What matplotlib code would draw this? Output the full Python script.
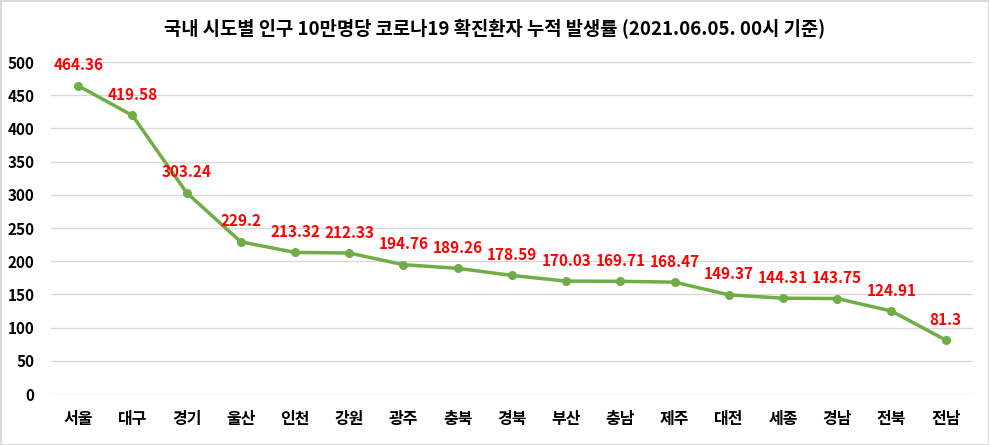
import matplotlib
matplotlib.use("Agg")
import matplotlib.pyplot as plt

plt.rcParams['font.family'] = ['Noto Sans CJK KR', 'DejaVu Sans']

regions = ["서울", "대구", "경기", "울산", "인천", "강원", "광주", "충북", "경북",
           "부산", "충남", "제주", "대전", "세종", "경남", "전북", "전남"]
values = [464.36, 419.58, 303.24, 229.2, 213.32, 212.33, 194.76, 189.26, 178.59,
          170.03, 169.71, 168.47, 149.37, 144.31, 143.75, 124.91, 81.3]
value_labels = ["464.36", "419.58", "303.24", "229.2", "213.32", "212.33", "194.76",
                "189.26", "178.59", "170.03", "169.71", "168.47", "149.37", "144.31",
                "143.75", "124.91", "81.3"]
yticks = [0, 50, 100, 150, 200, 250, 300, 350, 400, 450, 500]
title = "국내 시도별 인구 10만명당 코로나19 확진환자 누적 발생률 (2021.06.05. 00시 기준)"

fig = plt.figure(figsize=(9.89, 4.45), dpi=100)
fig.patch.set_edgecolor('#d9d9d9')
fig.patch.set_linewidth(2)
ax = fig.add_axes([0.0516, 0.1146, 0.932, 0.746])

x = list(range(len(regions)))
ax.plot(x, values, color='#70AD47', linewidth=2.5, marker='o', markersize=5.5, zorder=3)
for xi, v, lab in zip(x, values, value_labels):
    ax.annotate(lab, (xi, v), xytext=(0, 9), textcoords='offset points',
                ha='center', va='bottom', color='#FF0000', fontsize=11, fontweight='bold')

ax.set_xlim(-0.5, len(regions) - 0.5)
ax.set_ylim(0, 500)
ax.set_yticks(yticks)
ax.set_yticklabels([str(t) for t in yticks], fontsize=11, fontweight='bold')
ax.set_xticks(x)
ax.set_xticklabels(regions, fontsize=11.5, fontweight='bold')
ax.tick_params(axis='both', length=0)
ax.tick_params(axis='x', pad=12)
ax.tick_params(axis='y', pad=12)
ax.grid(axis='y', color='#d9d9d9', linewidth=1)
ax.set_axisbelow(True)
for s in ax.spines.values():
    s.set_visible(False)

fig.text(0.5, 0.934, title, ha='center', va='center', fontsize=13.5, fontweight='bold')

fig.savefig('out.png', dpi=100)
